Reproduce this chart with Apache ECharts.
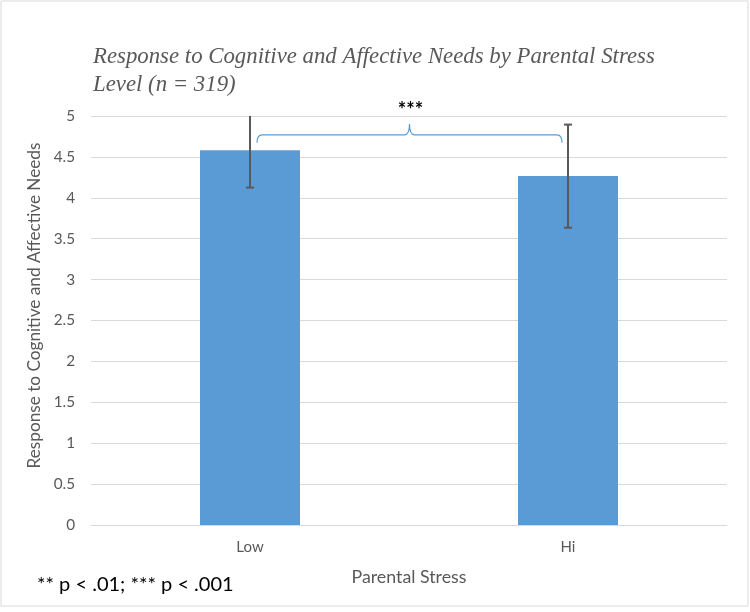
<!DOCTYPE html>
<html>
<head>
<meta charset="utf-8">
<script src="https://cdn.jsdelivr.net/npm/echarts@6/dist/echarts.min.js"></script>
<style>
html,body{margin:0;padding:0;background:#fff;}
#chart{width:750px;height:612px;}
</style>
</head>
<body>
<div id="chart"></div>
<script>
// ---- data ----
var categories = ['Low', 'Hi'];
var means = [4.58, 4.265];
var errors = [0.455, 0.63];
var bracketLevel = 4.77;
var bracketLabel = '***';
var titleText = 'Response to Cognitive and Affective Needs by Parental Stress\nLevel (n = 319)';
var yAxisName = 'Response to Cognitive and Affective Needs';
var xAxisName = 'Parental Stress';
var footnote = '** p < .01; *** p < .001';
var yMin = 0, yMax = 5, yStep = 0.5;

var errData = categories.map(function (c, i) {
  return [i, means[i] - errors[i], means[i] + errors[i]];
});

var chart = echarts.init(document.getElementById('chart'), null, {renderer: 'canvas'});
var sans = 'Lato, "Open Sans", sans-serif';

var option = {
  backgroundColor: '#ffffff',
  animation: false,
  title: {
    text: titleText,
    left: 93,
    top: 43,
    padding: 0,
    textStyle: {
      fontFamily: '"Liberation Serif", "DejaVu Serif", serif',
      fontStyle: 'italic',
      fontWeight: 'normal',
      fontSize: 22.8,
      lineHeight: 28,
      color: '#595959'
    }
  },
  grid: {left: 91, right: 23, top: 116, bottom: 87},
  xAxis: {
    type: 'category',
    data: categories,
    name: xAxisName,
    nameLocation: 'middle',
    nameGap: 43,
    nameTextStyle: {fontFamily: sans, fontSize: 17.8, color: '#595959'},
    axisTick: {show: false},
    axisLine: {lineStyle: {color: '#d9d9d9', width: 1}},
    axisLabel: {margin: 15, fontFamily: sans, fontSize: 15, color: '#595959'}
  },
  yAxis: {
    type: 'value',
    min: yMin,
    max: yMax,
    interval: yStep,
    name: yAxisName,
    nameLocation: 'middle',
    nameGap: 39,
    nameTextStyle: {fontFamily: sans, fontSize: 17.2, color: '#595959', padding: [0, 0, 0, 30]},
    axisLine: {show: false},
    axisTick: {show: false},
    axisLabel: {margin: 16, fontFamily: sans, fontSize: 15.3, color: '#595959'},
    splitLine: {lineStyle: {color: '#d9d9d9', width: 1}}
  },
  series: [
    {
      type: 'bar',
      data: means,
      barWidth: 100,
      itemStyle: {color: '#5b9bd5'},
      z: 2
    },
    {
      type: 'custom',
      data: errData,
      z: 5,
      renderItem: function (params, api) {
        var cs = params.coordSys;
        var xi = api.value(0);
        var lo = api.coord([xi, api.value(1)]);
        var hi = api.coord([xi, api.value(2)]);
        var x = lo[0];
        var top = hi[1], clipped = false;
        if (top < cs.y) { top = cs.y; clipped = true; }
        var cap = 4;
        var style = {stroke: '#595959', lineWidth: 2, fill: null};
        var children = [
          {type: 'line', shape: {x1: x, y1: lo[1], x2: x, y2: top}, style: style},
          {type: 'line', shape: {x1: x - cap, y1: lo[1], x2: x + cap, y2: lo[1]}, style: style}
        ];
        if (!clipped) {
          children.push({type: 'line', shape: {x1: x - cap, y1: top, x2: x + cap, y2: top}, style: style});
        }
        return {type: 'group', children: children};
      }
    },
    {
      type: 'custom',
      data: [[0, 1, bracketLevel]],
      z: 6,
      renderItem: function (params, api) {
        var a = api.coord([api.value(0), api.value(2)]);
        var b = api.coord([api.value(1), api.value(2)]);
        var y = a[1];
        var x0 = a[0] + 7, x1 = b[0] - 6, xc = (x0 + x1) / 2;
        var d = 'M' + x0 + ' ' + (y + 8) +
          ' Q' + x0 + ' ' + y + ' ' + (x0 + 5) + ' ' + y +
          ' L' + (xc - 5) + ' ' + y +
          ' Q' + xc + ' ' + y + ' ' + xc + ' ' + (y - 11) +
          ' Q' + xc + ' ' + y + ' ' + (xc + 5) + ' ' + y +
          ' L' + (x1 - 5) + ' ' + y +
          ' Q' + x1 + ' ' + y + ' ' + x1 + ' ' + (y + 8);
        return {
          type: 'group',
          children: [
            {type: 'path', shape: {pathData: d}, style: {stroke: '#5b9bd5', lineWidth: 1.2, fill: null}},
            {type: 'text', style: {
              text: bracketLabel, x: xc + 1, y: y - 24,
              align: 'center', verticalAlign: 'middle',
              font: 'bold 20px ' + sans, fill: '#000000'
            }}
          ]
        };
      }
    }
  ],
  graphic: [
    {
      type: 'text', left: 37, top: 575,
      style: {text: footnote, font: '20px ' + sans, fill: '#000000'}
    },
    {
      type: 'rect', shape: {x: 1, y: 1, width: 747, height: 605},
      style: {stroke: '#d9d9d9', fill: null, lineWidth: 1}, silent: true, z: -1
    }
  ]
};
chart.setOption(option);
</script>
</body>
</html>
